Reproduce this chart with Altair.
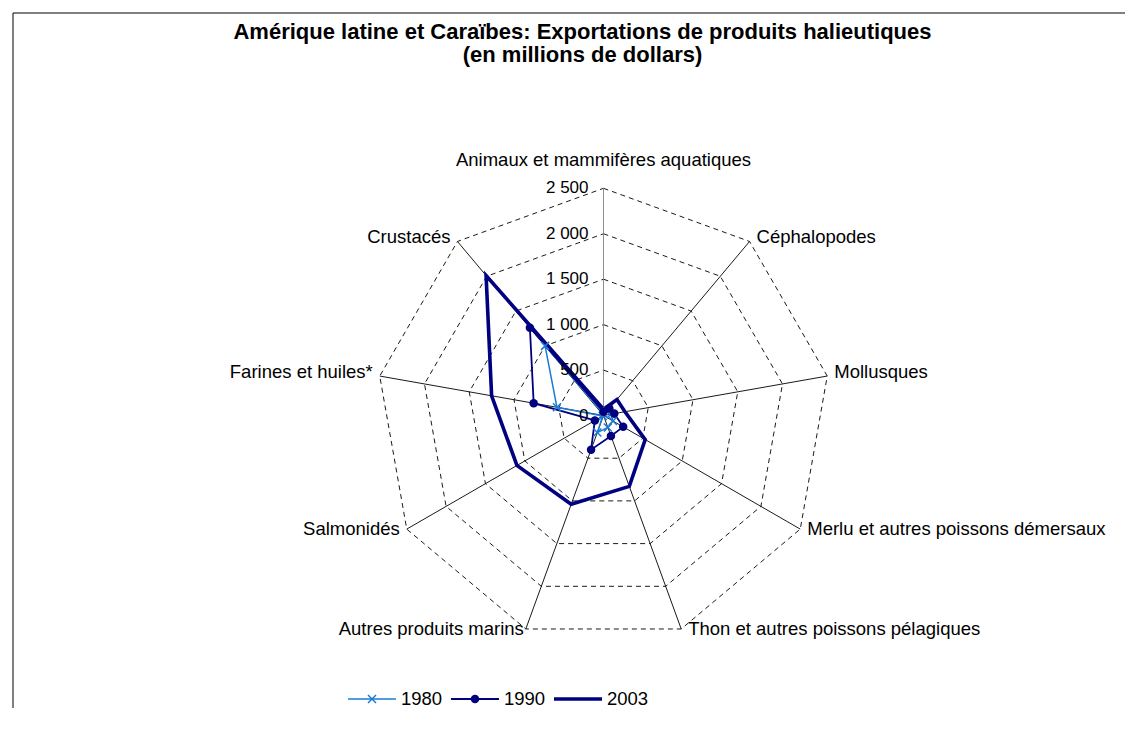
import altair as alt
import pandas as pd

# ---------------- data ----------------
categories = [
    "Animaux et mammifères aquatiques",
    "Céphalopodes",
    "Mollusques",
    "Merlu et autres poissons démersaux",
    "Thon et autres poissons pélagiques",
    "Autres produits marins",
    "Salmonidés",
    "Farines et huiles*",
    "Crustacés",
]
series = ["1980", "1990", "2003"]
v1980 = [20, 60, 80, 120, 140, 200, 10, 520, 1000]
v1990 = [40, 100, 120, 250, 240, 400, 110, 780, 1260]
v2003 = [70, 230, 240, 530, 830, 1040, 1100, 1250, 2010]
levels = [500, 1000, 1500, 2000, 2500]
tick_values = [0, 500, 1000, 1500, 2000, 2500]
tick_labels = ["0", "500", "1 000", "1 500", "2 000", "2 500"]
title_lines = [
    "Amérique latine et Caraïbes: Exportations de produits halieutiques",
    "(en millions de dollars)",
]

# ---------------- styling / layout ----------------
colors = ["#1a7bd6", "#000080", "#000080"]
widths = {"1980": 1.5, "1990": 1.8, "2003": 3.6}
FONT = "Liberation Sans"
LBL = 18.5
W, H = 1117, 700
CX, CY, RPX = 595.5, 407.5, 227.2
n = len(categories)
rmax = max(levels)
u = rmax / RPX
xs = alt.Scale(domain=[-CX * u, (W - CX) * u], nice=False, zero=False)
ys = alt.Scale(domain=[-(H - CY) * u, CY * u], nice=False, zero=False)
cs = alt.Scale(domain=series, range=colors)
ANG = f"datum.idx * 2 * PI / {n}"

values = {"1980": v1980, "1990": v1990, "2003": v2003}
series_df = pd.DataFrame(
    [{"series": s, "k": k, "idx": k % n, "value": values[s][k % n]}
     for s in series for k in range(n + 1)]
)
grid_df = pd.DataFrame(
    [{"level": lv, "k": k, "idx": k % n} for lv in levels for k in range(n + 1)]
)
cat_df = pd.DataFrame({"idx": list(range(n)), "cat": categories, "r": [rmax] * n})
tick_df = pd.DataFrame({"v": tick_values, "lab": tick_labels})


def xq(f):
    return alt.X(f, type="quantitative", scale=xs, axis=None)


def yq(f):
    return alt.Y(f, type="quantitative", scale=ys, axis=None)


def col():
    return alt.Color("series:N", scale=cs, legend=None)


# dashed grid polygons
grid = (
    alt.Chart(grid_df)
    .transform_calculate(a=ANG)
    .transform_calculate(gx="datum.level * sin(datum.a)", gy="datum.level * cos(datum.a)")
    .mark_line(color="black", strokeWidth=0.9, strokeDash=[5, 4])
    .encode(x=xq("gx"), y=yq("gy"), detail="level:N", order="k:Q")
)

# spokes
spokes = (
    alt.Chart(cat_df)
    .transform_calculate(a=ANG)
    .transform_calculate(
        sx="datum.r * sin(datum.a)", sy="datum.r * cos(datum.a)", ox="0", oy="0"
    )
    .mark_rule(strokeWidth=0.9)
    .encode(
        x=xq("ox"), y=yq("oy"), x2="sx:Q", y2="sy:Q",
        color=alt.condition("datum.idx == 0", alt.value("#808080"), alt.value("black")),
    )
)

# value labels
ticks = (
    alt.Chart(tick_df)
    .transform_calculate(zx="0")
    .mark_text(align="right", baseline="middle", dx=-15, font=FONT, fontSize=17, color="black")
    .encode(x=xq("zx"), y=yq("v"), text="lab:N")
)


def cat_labels(idxs, align, dx, dy):
    return (
        alt.Chart(cat_df)
        .transform_filter(alt.FieldOneOfPredicate(field="idx", oneOf=idxs))
        .transform_calculate(a=ANG)
        .transform_calculate(lx="datum.r * sin(datum.a)", ly="datum.r * cos(datum.a)")
        .mark_text(align=align, baseline="middle", dx=dx, dy=dy, font=FONT, fontSize=LBL, color="black")
        .encode(x=xq("lx"), y=yq("ly"), text="cat:N")
    )


labels = [
    cat_labels([0], "center", 0, -28),
    cat_labels([1, 2], "left", 7, -4),
    cat_labels([3, 4], "left", 7, 0),
    cat_labels([5], "right", -2, 0),
    cat_labels([6], "right", -7, 0),
    cat_labels([7, 8], "right", -7, -4),
]

base_series = (
    alt.Chart(series_df)
    .transform_calculate(a=ANG)
    .transform_calculate(px="datum.value * sin(datum.a)", py="datum.value * cos(datum.a)")
)

lines = [
    base_series.transform_filter(alt.FieldEqualPredicate(field="series", equal=s))
    .mark_line(strokeWidth=widths[s])
    .encode(x=xq("px"), y=yq("py"), color=col(), order="k:Q")
    for s in series
]

dots = base_series.transform_filter(
    "datum.series == '1990' && datum.k < %d" % n
).mark_point(shape="circle", filled=True, size=72, opacity=1).encode(
    x=xq("px"), y=yq("py"), color=col()
)

XPATH = "M-1,-1L1,1M-1,1L1,-1"
crosses = base_series.transform_filter(
    "datum.series == '1980' && datum.k < %d" % n
).mark_point(shape=XPATH, filled=False, size=64, strokeWidth=1.5, opacity=1).encode(
    x=xq("px"), y=yq("py"), color=col()
)

# legend (manual, Excel style)
leg = []
LX0, LSTEP, LY = 340, 103, 691
for i, s in enumerate(series):
    d = pd.DataFrame({"series": [s]})
    x0 = LX0 + i * LSTEP
    leg.append(
        alt.Chart(d).mark_rule(strokeWidth=widths[s]).encode(
            x=alt.value(x0), x2=alt.value(x0 + 48), y=alt.value(LY), color=col()
        )
    )
    if s == "1990":
        leg.append(alt.Chart(d).mark_point(shape="circle", filled=True, size=72, opacity=1).encode(
            x=alt.value(x0 + 24), y=alt.value(LY), color=col()))
    if s == "1980":
        leg.append(alt.Chart(d).mark_point(shape=XPATH, filled=False, size=64, strokeWidth=1.5, opacity=1).encode(
            x=alt.value(x0 + 24), y=alt.value(LY), color=col()))
    leg.append(
        alt.Chart(d).mark_text(align="left", baseline="middle", font=FONT, fontSize=LBL, color="black").encode(
            x=alt.value(x0 + 53), y=alt.value(LY), text="series:N")
    )

# title
titles = []
for j, t in enumerate(title_lines):
    titles.append(
        alt.Chart(pd.DataFrame({"t": [t]})).mark_text(
            align="center", baseline="middle", font=FONT, fontSize=22, fontWeight="bold", color="black"
        ).encode(x=alt.value(574.5), y=alt.value(24 + j * 23), text="t:N")
    )

# frame
one = pd.DataFrame({"a": [0]})
frame_top = alt.Chart(one).mark_rule(color="#000000", strokeWidth=1).encode(
    x=alt.value(5), x2=alt.value(1125), y=alt.value(5))
frame_left = alt.Chart(one).mark_rule(color="#000000", strokeWidth=1).encode(
    x=alt.value(5), y=alt.value(5), y2=alt.value(730))

chart = (
    alt.layer(grid, spokes, *labels, *lines, crosses, dots, ticks, *leg, *titles, frame_top, frame_left)
    .properties(width=W, height=H, autosize=alt.AutoSizeParams(type="none"), padding=0)
    .configure_view(stroke=None)
)

chart.save("out.html", embed_options={"renderer": "svg", "actions": False})
